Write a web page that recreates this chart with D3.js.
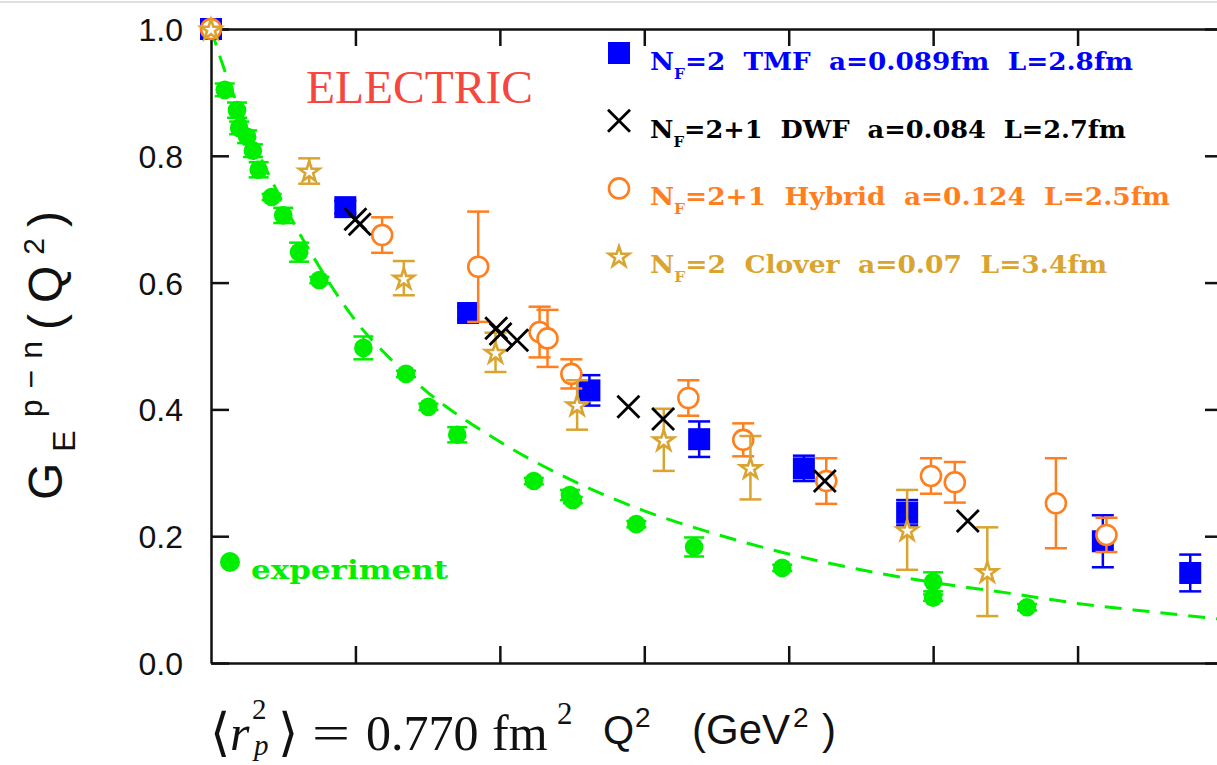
<!DOCTYPE html>
<html>
<head>
<meta charset="utf-8">
<script src="https://cdn.jsdelivr.net/npm/d3@7"></script>
<style>
  body { margin: 0; background: #fff; }
  svg text { white-space: pre; }
</style>
</head>
<body>
<svg id="chart" width="1217" height="765"></svg>
<script>
// experiment (green dots)
const expQ2 = [0.019, 0.036, 0.039, 0.050, 0.058, 0.066, 0.084, 0.100, 0.122, 0.150, 0.211, 0.270, 0.301, 0.341, 0.447, 0.497, 0.501, 0.589, 0.669, 0.791, 1.000, 1.000, 1.130];
const expG = [0.904, 0.872, 0.844, 0.830, 0.808, 0.778, 0.735, 0.706, 0.648, 0.604, 0.497, 0.456, 0.404, 0.360, 0.287, 0.265, 0.257, 0.219, 0.183, 0.150, 0.128, 0.103, 0.088];
const expErr = [0.010, 0.012, 0.010, 0.010, 0.010, 0.012, 0.005, 0.012, 0.015, 0.005, 0.018, 0.005, 0.005, 0.012, 0.005, 0.008, 0.005, 0.005, 0.015, 0.005, 0.015, 0.005, 0.005];

// dashed fit through experiment
const fitQ2 = [0, 0.025, 0.05, 0.1, 0.15, 0.2, 0.25, 0.3, 0.4, 0.5, 0.6, 0.7, 0.8, 0.9, 1.0, 1.1, 1.2, 1.3, 1.4];
const fitG = [1.0, 0.915, 0.845, 0.725, 0.625, 0.54, 0.478, 0.427, 0.349, 0.288, 0.240, 0.203, 0.172, 0.147, 0.127, 0.111, 0.094, 0.081, 0.069];

// Nf=2 TMF
const tmfQ2 = [0, 0.186, 0.356, 0.524, 0.676, 0.821, 0.964, 1.235, 1.356];
const tmfG = [1.0, 0.719, 0.552, 0.430, 0.353, 0.307, 0.237, 0.192, 0.142];
const tmfErr = [0, 0.01, 0.01, 0.024, 0.028, 0.02, 0.02, 0.041, 0.029];

// Nf=2+1 DWF
const dwfQ2 = [0, 0.200, 0.206, 0.395, 0.401, 0.424, 0.578, 0.626, 0.850, 1.048];
const dwfG = [1.0, 0.700, 0.692, 0.528, 0.519, 0.509, 0.404, 0.385, 0.287, 0.224];

// Nf=2+1 Hybrid
const hybQ2 = [0, 0.237, 0.370, 0.455, 0.466, 0.499, 0.661, 0.737, 0.852, 0.997, 1.030, 1.170, 1.240];
const hybG = [1.0, 0.675, 0.625, 0.522, 0.512, 0.456, 0.418, 0.352, 0.287, 0.295, 0.285, 0.252, 0.202];
const hybErr = [0, 0.028, 0.087, 0.040, 0.045, 0.023, 0.028, 0.026, 0.036, 0.028, 0.032, 0.071, 0.027];

// Nf=2 Clover
const clvQ2 = [0, 0.136, 0.267, 0.394, 0.507, 0.627, 0.747, 0.964, 1.075];
const clvG = [1.0, 0.776, 0.607, 0.490, 0.407, 0.352, 0.308, 0.210, 0.144];
const clvErr = [0, 0.02, 0.027, 0.031, 0.039, 0.049, 0.05, 0.063, 0.07];

const yTicks = [0, 0.2, 0.4, 0.6, 0.8, 1.0];
const xTicks = [0.2, 0.4, 0.6, 0.8, 1.0, 1.2, 1.4];

const legendLabels = [
  "=2  TMF  a=0.089fm  L=2.8fm",
  "=2+1  DWF  a=0.084  L=2.7fm",
  "=2+1  Hybrid  a=0.124  L=2.5fm",
  "=2  Clover  a=0.07  L=3.4fm"
];

const BLUE = "#0000ff", ORANGE = "#ff7f1e", GOLD = "#d9a430", GREEN = "#00ee00";

const svg = d3.select("#chart");
const margin = { top: 29, right: -5, bottom: 102, left: 211 };
const W = 1217, H = 765;

const x = d3.scaleLinear().domain([0, 1.4]).range([margin.left, W - margin.right]);
const y = d3.scaleLinear().domain([0, 1]).range([H - margin.bottom, margin.top]);

svg.append("rect").attr("width", W).attr("height", H).attr("fill", "#fff");
svg.append("line").attr("x1", 0).attr("x2", W).attr("y1", 2).attr("y2", 2)
  .attr("stroke", "#d4d4d4").attr("stroke-width", 1.5);

// axes, ticks pointing inward
function styleAxis(g) {
  g.selectAll("path, line").attr("stroke", "#111").attr("stroke-width", 2.5);
  g.selectAll("text").attr("fill", "#111")
    .style("font-family", "Liberation Sans, Arial, sans-serif").style("font-size", "32px");
}
svg.append("g").attr("transform", `translate(0,${y(0)})`)
  .call(d3.axisBottom(x).tickValues(xTicks).tickSize(-17).tickSizeOuter(0).tickFormat(""))
  .call(styleAxis);
svg.append("g").attr("transform", `translate(0,${y(1)})`)
  .call(d3.axisTop(x).tickValues(xTicks).tickSize(-17).tickSizeOuter(0).tickFormat(""))
  .call(styleAxis);
svg.append("g").attr("transform", `translate(${x(1.4)},0)`)
  .call(d3.axisRight(y).tickValues(yTicks).tickSize(-17).tickSizeOuter(0).tickFormat(""))
  .call(styleAxis);
svg.append("g").attr("transform", `translate(${x(0)},0)`)
  .call(d3.axisLeft(y).tickValues(yTicks).tickSize(-18).tickSizeOuter(0).tickPadding(28).tickFormat(d3.format(".1f")))
  .call(styleAxis)
  .call(g => g.selectAll("text").attr("dy", "0.36em"));

// dashed fit
svg.append("path")
  .datum(fitQ2.map((q, i) => [q, fitG[i]]))
  .attr("fill", "none").attr("stroke", GREEN).attr("stroke-width", 3)
  .attr("stroke-dasharray", "17,11")
  .attr("d", d3.line().x(d => x(d[0])).y(d => y(d[1])).curve(d3.curveMonotoneX));

function errorBars(g, qs, gs, errs, color, cap) {
  qs.forEach((q, i) => {
    if (!errs[i]) return;
    const cx = x(q), top = y(gs[i] + errs[i]), bot = y(gs[i] - errs[i]);
    g.append("line").attr("x1", cx).attr("x2", cx).attr("y1", top).attr("y2", bot);
    g.append("line").attr("x1", cx - cap).attr("x2", cx + cap).attr("y1", top).attr("y2", top);
    g.append("line").attr("x1", cx - cap).attr("x2", cx + cap).attr("y1", bot).attr("y2", bot);
  });
  g.attr("stroke", color).attr("stroke-width", 2.5);
}

// experiment
const gExp = svg.append("g");
errorBars(gExp.append("g"), expQ2, expG, expErr, GREEN, 10);
gExp.selectAll("circle.exp").data(expQ2).join("circle").attr("class", "exp")
  .attr("cx", d => x(d)).attr("cy", (d, i) => y(expG[i])).attr("r", 9.3).attr("fill", GREEN);

const star = d3.symbol().type(d3.symbolStar).size(130);

function drawMarker(g, type, cx, cy) {
  if (type === "square") {
    g.append("rect").attr("x", cx - 11).attr("y", cy - 11).attr("width", 22).attr("height", 22).attr("fill", BLUE);
  } else if (type === "cross") {
    g.append("path").attr("d", `M${cx - 11},${cy - 11}L${cx + 11},${cy + 11}M${cx - 11},${cy + 11}L${cx + 11},${cy - 11}`)
      .attr("stroke", "#000").attr("stroke-width", 2.8);
  } else if (type === "circle") {
    g.append("circle").attr("cx", cx).attr("cy", cy).attr("r", 10)
      .attr("fill", "#fff").attr("stroke", ORANGE).attr("stroke-width", 2.6);
  } else {
    g.append("path").attr("d", star()).attr("transform", `translate(${cx},${cy + 1})`)
      .attr("fill", "#fff").attr("stroke", GOLD).attr("stroke-width", 2.6);
  }
}

function series(qs, gs, errs, color, type) {
  const g = svg.append("g");
  qs.forEach((q, i) => {
    if (errs && errs[i]) errorBars(g.append("g"), [q], [gs[i]], [errs[i]], color, 11);
    drawMarker(g, type, x(q), y(gs[i]));
  });
}

series(tmfQ2, tmfG, tmfErr, BLUE, "square");
series(hybQ2, hybG, hybErr, ORANGE, "circle");
series(clvQ2, clvG, clvErr, GOLD, "star");
series(dwfQ2.slice(1), dwfG.slice(1), null, "#000", "cross");

// legend
const legendFont = "DejaVu Serif, Liberation Serif, serif";
const legendColors = ["#0000ff", "#000000", ORANGE, GOLD];
const legendTypes = ["square", "cross", "circle", "star"];
const legendWidths = [483, 476, 520, 457];
legendLabels.forEach((lab, i) => {
  const by = 70 + i * 67.7;
  drawMarker(svg.append("g"), legendTypes[i], 619, by - 17);
  const t = svg.append("text").attr("x", 650).attr("y", by)
    .attr("fill", legendColors[i]).style("font-family", legendFont)
    .style("font-weight", "bold").style("font-size", "24px")
    .attr("textLength", legendWidths[i]).attr("lengthAdjust", "spacingAndGlyphs");
  t.append("tspan").text("N");
  t.append("tspan").attr("dy", 9).style("font-size", "14px").text("F");
  t.append("tspan").attr("dy", -9).text(lab);
});

svg.append("circle").attr("cx", 230).attr("cy", 562).attr("r", 10).attr("fill", GREEN);
svg.append("text").attr("x", 251).attr("y", 579).attr("fill", GREEN)
  .style("font-family", legendFont).style("font-weight", "bold").style("font-size", "26px")
  .attr("textLength", 197).attr("lengthAdjust", "spacingAndGlyphs").text("experiment");

svg.append("text").attr("x", 306).attr("y", 103).attr("fill", "#f5473f")
  .style("font-family", "Liberation Serif, Times New Roman, serif").style("font-size", "47px")
  .attr("textLength", 227).attr("lengthAdjust", "spacingAndGlyphs").text("ELECTRIC");

// y label, rotated; gnuplot-style wide spacing
const yl = svg.append("text").attr("transform", "translate(62,350) rotate(-90)")
  .attr("text-anchor", "middle").attr("fill", "#111")
  .style("font-family", "Liberation Sans, Arial, sans-serif").style("font-size", "48px")
  .style("letter-spacing", "11px");
yl.append("tspan").text("G");
yl.append("tspan").attr("dy", 13).style("font-size", "32px").text("E");
yl.append("tspan").attr("dy", -33).attr("dx", 2).style("font-size", "32px").text("p\u2212n");
yl.append("tspan").attr("dy", 20).text("(Q");
yl.append("tspan").attr("dy", -18).style("font-size", "30px").text("2");
yl.append("tspan").attr("dy", 18).text(")");

// x label: LaTeX-like part then sans part
const serif = "Liberation Serif, DejaVu Serif, serif";
const xb = 750;
function lbl(tx, ty, s, size, fam, italic, len) {
  const t = svg.append("text").attr("x", tx).attr("y", ty).attr("fill", "#111")
    .style("font-family", fam).style("font-size", size + "px")
    .style("font-style", italic ? "italic" : "normal").text(s);
  if (len) t.attr("textLength", len).attr("lengthAdjust", "spacingAndGlyphs");
}
lbl(210, xb, "\u27E8", 52, "DejaVu Serif, serif", false);
lbl(230, xb, "r", 50, serif, true);
lbl(252, 719, "2", 29, serif, false);
lbl(254, 755, "p", 29, serif, true);
lbl(278, xb, "\u27E9", 52, "DejaVu Serif, serif", false);
lbl(312, xb, "=", 50, serif, false, 38);
lbl(366, xb, "0.770", 50, serif, false);
lbl(492, xb, "fm", 50, serif, false);
lbl(557, 724, "2", 31, serif, false);

const sans = "Liberation Sans, Arial, sans-serif";
lbl(603, 744, "Q", 40, sans, false);
lbl(635, 727, "2", 28, sans, false);
lbl(692, 744, "(GeV", 42, sans, false);
lbl(793, 727, "2", 28, sans, false);
lbl(822, 744, ")", 42, sans, false);
</script>
</body>
</html>
